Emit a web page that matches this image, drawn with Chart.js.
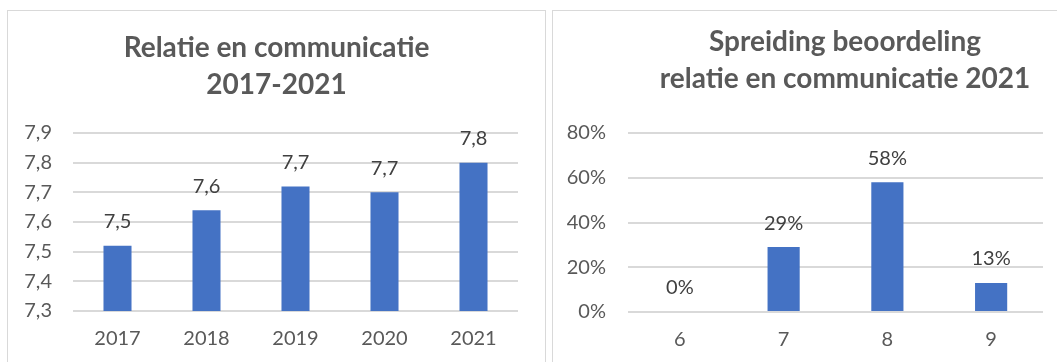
<!DOCTYPE html>
<html>
<head>
<meta charset="utf-8">
<script src="https://cdn.jsdelivr.net/npm/chart.js@4.4.1/dist/chart.umd.min.js"></script>
<style>
  html, body { margin: 0; padding: 0; background: #fff; overflow: hidden; width: 1057px; height: 362px; }
  .box { position: absolute; top: 10px; height: 400px; border: 1px solid #d9d9d9; background: #fff; overflow: hidden; }
  #boxLeft  { left: 7px;   width: 537px; }
  #boxRight { left: 552px; width: 600px; }
  canvas { position: absolute; left: 0; top: 0; }
</style>
</head>
<body>
<div class="box" id="boxLeft"><canvas id="yearChart" width="537" height="351"></canvas></div>
<div class="box" id="boxRight"><canvas id="spreadChart" width="584" height="351"></canvas></div>
<script>
// ── data ──────────────────────────────────────────────────────────────────────
const years       = ['2017', '2018', '2019', '2020', '2021'];
const yearScores  = [7.52, 7.64, 7.72, 7.70, 7.80];
const yearTicks   = [7.3, 7.9, 0.1];            // min, max, step

const grades      = ['6', '7', '8', '9'];
const gradeShares = [0, 29, 58, 13];            // percent
const shareTicks  = [0, 80, 20];                // min, max, step

// ── shared look ───────────────────────────────────────────────────────────────
const FONT       = 'Lato, "Open Sans", sans-serif';
const BAR_COLOR  = '#4472c4';
const GRID_COLOR = '#d9d9d9';
const TEXT_COLOR = '#595959';
const TICK_SIZE  = 20;

const comma = v => v.toFixed(1).replace('.', ',');

// draws the value above every bar
const barLabels = {
  id: 'barLabels',
  afterDatasetsDraw(chart, args, opts) {
    const ctx = chart.ctx;
    const meta = chart.getDatasetMeta(0);
    const data = chart.data.datasets[0].data;
    ctx.save();
    ctx.font = `${TICK_SIZE}px ${FONT}`;
    ctx.fillStyle = '#404040';
    ctx.textAlign = 'center';
    ctx.textBaseline = 'middle';
    meta.data.forEach((bar, i) => {
      ctx.fillText(opts.format(data[i]), bar.x, bar.y - 24);
    });
    ctx.restore();
  },
};

function buildChart(id, cfg) {
  new Chart(document.getElementById(id), {
    type: 'bar',
    data: {
      labels: cfg.labels,
      datasets: [{
        data:               cfg.values,
        backgroundColor:    BAR_COLOR,
        barPercentage:      cfg.barPct,
        categoryPercentage: 1,
      }],
    },
    plugins: [barLabels],
    options: {
      responsive: false,
      animation:  false,
      events:     [],
      layout:     { padding: 0 },
      plugins: {
        legend:  { display: false },
        tooltip: { enabled: false },
        title: {
          display: true,
          text:    cfg.title,
          color:   TEXT_COLOR,
          font:    { family: FONT, size: 28, weight: 'bold', lineHeight: '37px' },
          padding: cfg.titlePad,
        },
        barLabels: { format: cfg.format },
      },
      scales: {
        x: {
          grid:   { display: false },
          border: { display: false },
          ticks:  { color: TEXT_COLOR, font: { family: FONT, size: TICK_SIZE }, padding: 8 },
          afterFit: s => { s.height = cfg.xHeight; },
        },
        y: {
          min: cfg.ticks[0],
          max: cfg.ticks[1],
          grid:   { color: GRID_COLOR, lineWidth: 2, drawTicks: false },
          border: { display: false },
          ticks:  {
            stepSize: cfg.ticks[2],
            color:    TEXT_COLOR,
            font:     { family: FONT, size: TICK_SIZE },
            padding:  cfg.yPad,
            callback: v => cfg.tickFormat(v),
          },
          afterFit: s => { s.width = cfg.yWidth; },
        },
        // empty axis that keeps room on the right so the title stays centred on the box
        spacer: {
          axis: 'y', type: 'linear', position: 'right', min: 0, max: 1,
          grid:   { display: false },
          border: { display: false },
          ticks:  { display: false },
          afterFit: s => { s.width = cfg.rightGap; },
        },
      },
    },
  });
}

buildChart('yearChart', {
  labels:     years,
  values:     yearScores,
  ticks:      yearTicks,
  title:      ['Relatie en communicatie', '2017-2021'],
  titlePad:   { top: 18.5, bottom: 29.5 },
  barPct:     0.315,
  xHeight:    51,
  yWidth:     65,
  yPad:       21,
  rightGap:   27,
  format:     comma,
  tickFormat: comma,
});

buildChart('spreadChart', {
  labels:     grades,
  values:     gradeShares,
  ticks:      shareTicks,
  title:      ['Spreiding beoordeling', 'relatie en communicatie 2021'],
  titlePad:   { top: 12.5, bottom: 35.5 },
  barPct:     0.31,
  xHeight:    50,
  yWidth:     75,
  yPad:       22,
  rightGap:   94,
  format:     v => Math.round(v) + '%',
  tickFormat: v => Math.round(v) + '%',
});
</script>
</body>
</html>
